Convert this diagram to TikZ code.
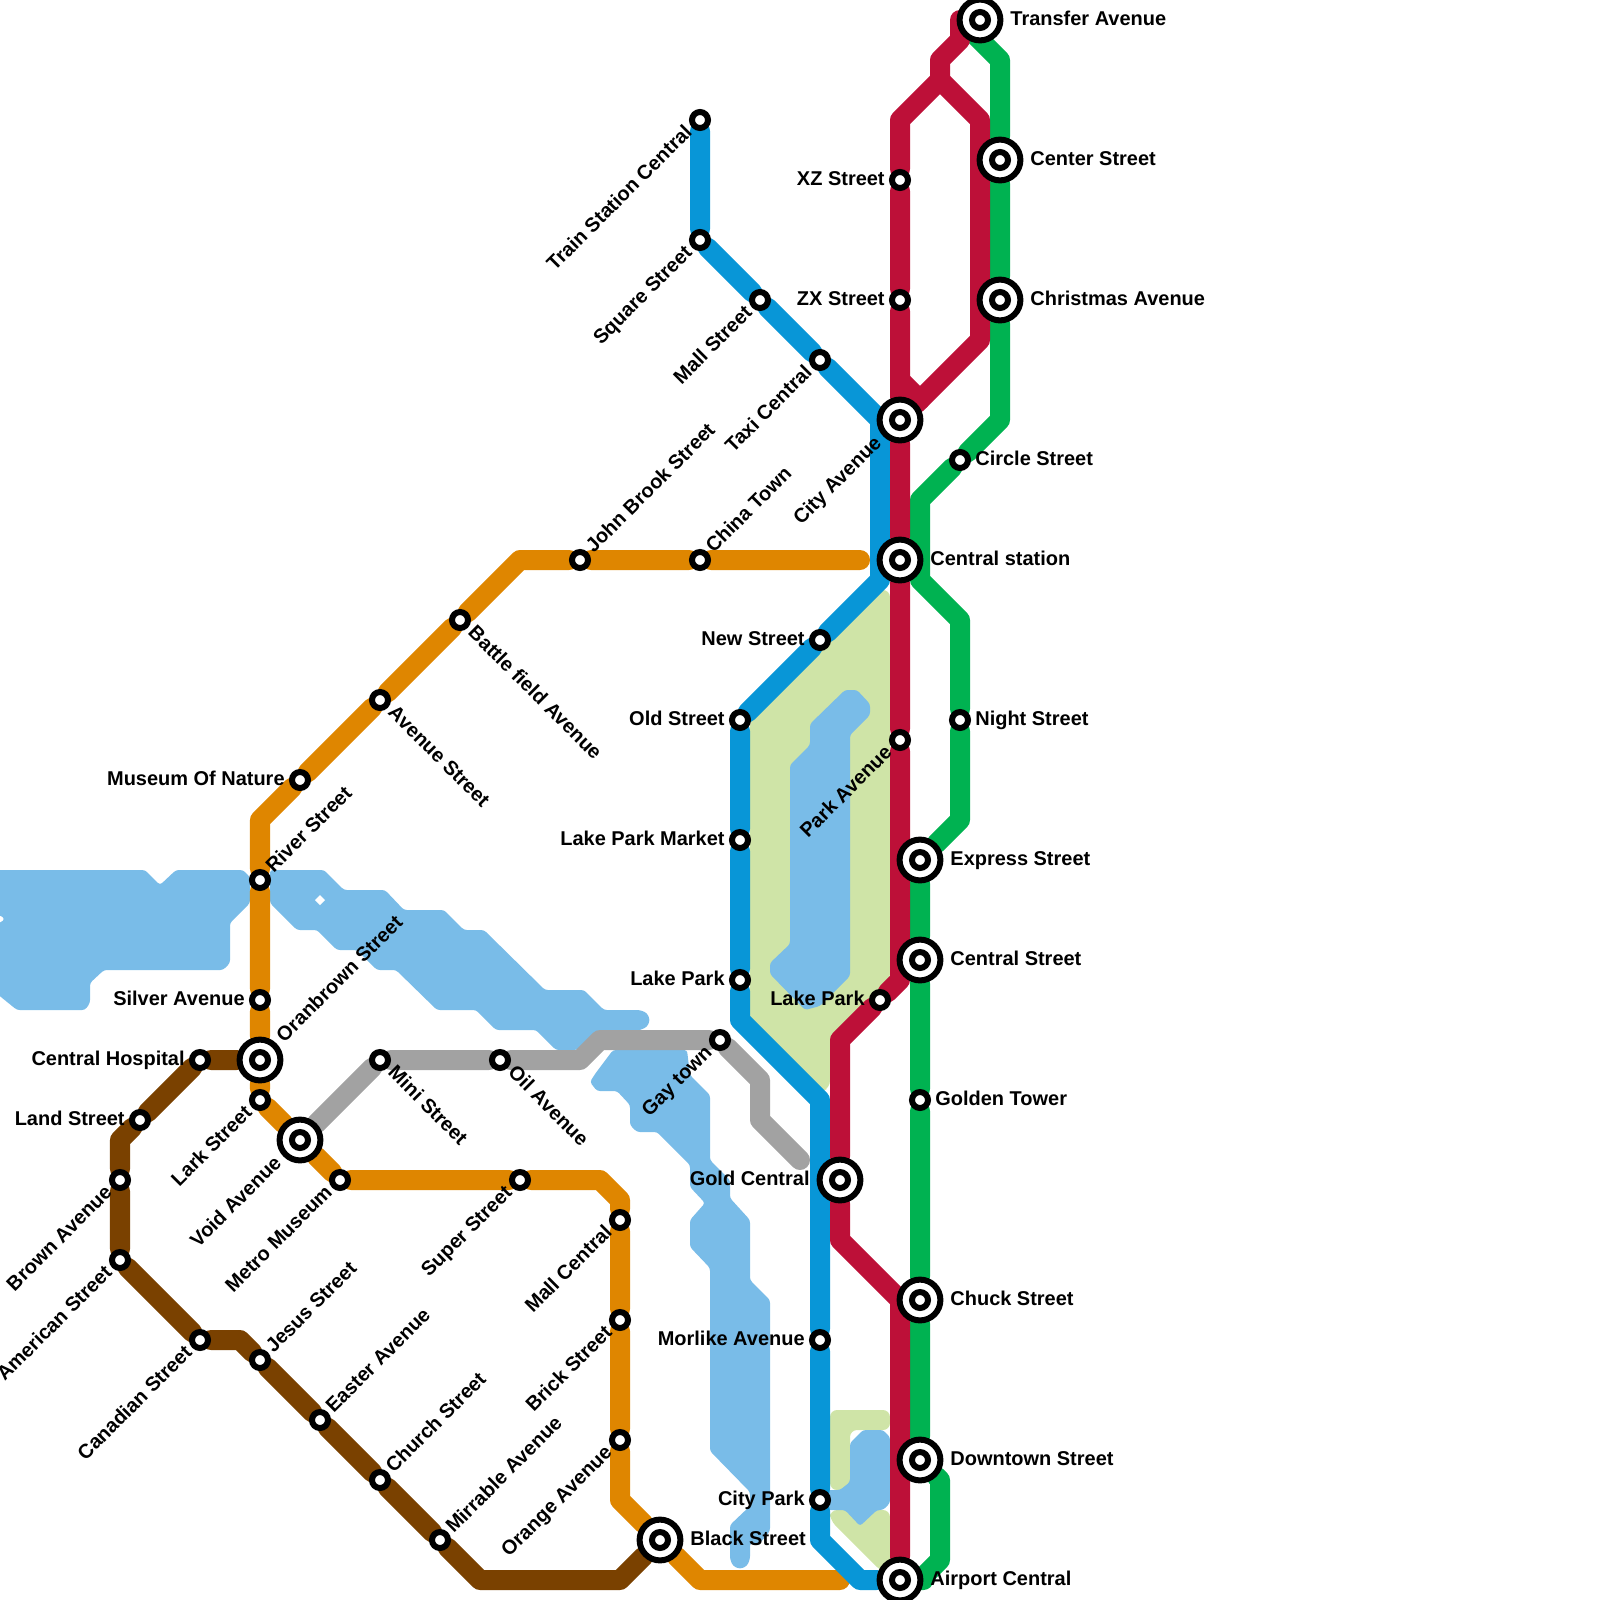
\documentclass[tikz,border=0pt]{standalone}
\usepackage{fontspec}
\setmainfont{Liberation Sans}
\usetikzlibrary{backgrounds}
\definecolor{mtblue}{HTML}{0896D7}
\definecolor{mtorange}{HTML}{DF8600}
\definecolor{mtbrown}{HTML}{7A4100}
\definecolor{mtgray}{HTML}{A2A2A2}
\definecolor{mtred}{HTML}{BD1038}
\definecolor{mtgreen}{HTML}{00B251}
\definecolor{mtlake}{HTML}{79BCE8}
\definecolor{mtpark}{HTML}{CFE4A7}
\tikzset{
  railline/.style={line width=0.5cm, line cap=round, line join=round},
  lake/.style={fill=mtlake, rounded corners=2pt},
  park/.style={fill=mtpark, rounded corners=5pt},
  every label/.style={font=\bfseries\fontsize{14.2}{14.2}\selectfont, inner sep=0pt, text height=10.2pt, text depth=3pt},
  stop/.style={circle, draw=black, fill=white, line width=0.15cm, minimum size=0.4cm, inner sep=0pt},
  hub/.style={stop, minimum size=1.02cm,
    path picture={\draw[black, line width=0.15cm, fill=white] (path picture bounding box.center) circle (8);}},
  far/.style={outer sep=2.1pt},
  upleft/.style={xshift=-1.8pt, yshift=1.4pt, rotate=45, anchor=east},
  upright/.style={xshift=1.6pt, yshift=-1.6pt, rotate=45, anchor=west},
  downright/.style={xshift=2pt, yshift=1.2pt, rotate=-45, anchor=west}
}
\begin{document}
\begin{tikzpicture}[x=0.025cm, y=-0.025cm, label distance=2.9pt]
  \useasboundingbox (0,0) rectangle (1600,1600);

  % Blue line stops
  \node[stop, label={[upleft]225:Train Station Central}] (trainstation) at (700,120) {};
  \node[stop, label={[upleft]225:Square Street}] (squarestreet) at (700,240) {};
  \node[stop, label={[upleft]225:Mall Street}] (mallstreet) at (760,300) {};
  \node[stop, label={[upleft]225:Taxi Central}] (taxicentral) at (820,360) {};
  \node[stop, label=left:New Street] (newstreet) at (820,640) {};
  \node[stop, label=left:Old Street] (oldstreet) at (740,720) {};
  \node[stop, label=left:Lake Park Market] (lakeparkmarket) at (740,840) {};
  \node[stop, label=left:Lake Park] (lakeparkwest) at (740,980) {};
  \node[stop, label=left:Morlike Avenue] (morlike) at (820,1340) {};
  \node[stop, label=left:City Park] (citypark) at (820,1500) {};

  % Red line stops
  \node[stop, label=left:XZ Street] (xzstreet) at (900,180) {};
  \node[stop, label=left:ZX Street] (zxstreet) at (900,300) {};
  \node[hub, label={[upleft,far]225:City Avenue}] (cityavenue) at (900,420) {};
  \node[stop, label={[upleft]225:Park Avenue}] (parkavenue) at (900,740) {};
  \node[stop, label=left:Lake Park] (lakeparkeast) at (880,1000) {};
  \node[hub, label={[far]left:Gold Central}] (goldcentral) at (840,1180) {};
  \node[hub, label={[far]right:Airport Central}] (airport) at (900,1580) {};
  \node[hub, label={[far]right:Central station}] (centralstation) at (900,560) {};

  % Green line stops
  \node[hub, label={[far]right:Transfer Avenue}] (transfer) at (980,20) {};
  \node[hub, label={[far]right:Center Street}] (centerstreet) at (1000,160) {};
  \node[hub, label={[far]right:Christmas Avenue}] (christmas) at (1000,300) {};
  \node[stop, label=right:Circle Street] (circlestreet) at (960,460) {};
  \node[stop, label=right:Night Street] (nightstreet) at (960,720) {};
  \node[hub, label={[far]right:Express Street}] (express) at (920,860) {};
  \node[hub, label={[far]right:Central Street}] (centralstreet) at (920,960) {};
  \node[stop, label=right:Golden Tower] (goldentower) at (920,1100) {};
  \node[hub, label={[far]right:Chuck Street}] (chuck) at (920,1300) {};
  \node[hub, label={[far]right:Downtown Street}] (downtown) at (920,1460) {};

  % Orange line stops
  \node[stop, label={[upright]45:China Town}] (chinatown) at (700,560) {};
  \node[stop, label={[upright]45:John Brook Street}] (johnbrook) at (580,560) {};
  \node[stop, label={[downright]-45:Battle field Avenue}] (battlefield) at (460,620) {};
  \node[stop, label={[downright]-45:Avenue Street}] (avenuestreet) at (380,700) {};
  \node[stop, label=left:Museum Of Nature] (museum) at (300,780) {};
  \node[stop, label={[upright]45:River Street}] (riverstreet) at (260,880) {};
  \node[stop, label=left:Silver Avenue] (silveravenue) at (260,1000) {};
  \node[hub, label={[upright,far]45:Oranbrown Street}] (oranbrown) at (260,1060) {};
  \node[stop, label={[upleft]225:Lark Street}] (larkstreet) at (260,1100) {};
  \node[hub, label={[upleft,far]225:Void Avenue}] (voidavenue) at (300,1140) {};
  \node[stop, label={[upleft]225:Metro Museum}] (metromuseum) at (340,1180) {};
  \node[stop, label={[upleft]225:Super Street}] (superstreet) at (520,1180) {};
  \node[stop, label={[upleft]225:Mall Central}] (mallcentral) at (620,1220) {};
  \node[stop, label={[upleft]225:Brick Street}] (brickstreet) at (620,1320) {};
  \node[stop, label={[upleft]225:Orange Avenue}] (orangeavenue) at (620,1440) {};
  \node[hub, label={[far]right:Black Street}] (blackstreet) at (660,1540) {};

  % Brown line stops
  \node[stop, label=left:Central Hospital] (hospital) at (200,1060) {};
  \node[stop, label=left:Land Street] (landstreet) at (140,1120) {};
  \node[stop, label={[upleft]225:Brown Avenue}] (brownavenue) at (120,1180) {};
  \node[stop, label={[upleft]225:American Street}] (american) at (120,1260) {};
  \node[stop, label={[upleft]225:Canadian Street}] (canadian) at (200,1340) {};
  \node[stop, label={[upright]45:Jesus Street}] (jesus) at (260,1360) {};
  \node[stop, label={[upright]45:Easter Avenue}] (easter) at (320,1420) {};
  \node[stop, label={[upright]45:Church Street}] (church) at (380,1480) {};
  \node[stop, label={[upright]45:Mirrable Avenue}] (mirrable) at (440,1540) {};

  % Gray line stops
  \node[stop, label={[downright]-45:Mini Street}] (ministreet) at (380,1060) {};
  \node[stop, label={[downright]-45:Oil Avenue}] (oilavenue) at (500,1060) {};
  \node[stop, label={[upleft]225:Gay town}] (gaytown) at (720,1040) {};

  % Free line ends
  \coordinate (orangestart) at (860,560);
  \coordinate (orangeend) at (840,1580);
  \coordinate (grayend) at (800,1160);
  \coordinate (redtop) at (960,20);
  \coordinate (redsplit) at (940,80);
  \coordinate (redfork) at (920,400);
  \coordinate (rednotch) at (900,380);

  \begin{scope}[on background layer]
    % Parks
    \path[park] (750,720) -- (877,590) -- (890,590) -- (890,980) -- (830,1040) -- (830,1088) -- (820,1092) -- (810,1088) -- (750,1025) -- cycle;
    \path[park] (830,1410) -- (890,1410) -- (890,1430) -- (850,1430) -- (850,1490) -- (830,1490) -- cycle;
    \path[park] (830,1510) -- (890,1510) -- (890,1572) -- (882,1572) -- (830,1520) -- cycle;

    % Lakes
    \path[lake] (-20,870) -- (145,870) -- (160,885) -- (176,870) -- (243,870) -- (250,877) -- (250,903) -- (230,923) -- (230,963) -- (223,970) -- (104,970) -- (90,983) -- (90,1003) -- (85,1010) -- (17,1010) -- (-20,980) -- (-20,923) -- (0,923) -- (5,919) -- (0,915) -- (-20,915) -- cycle;
    \path[lake] (270,870) -- (324,870) -- (344,890) -- (385,890) -- (404,910) -- (444,910) -- (464,930) -- (484,930) -- (545,990) -- (584,990) -- (604,1010) -- (640,1010) -- (647,1013) -- (650,1020) -- (647,1027) -- (640,1030) -- (600,1040) -- (576,1050) -- (556,1050) -- (536,1030) -- (496,1030) -- (476,1010) -- (437,1010) -- (396,970) -- (377,970) -- (357,950) -- (337,950) -- (317,930) -- (297,930) -- (270,903) -- cycle;
    \fill[white] (320,895) -- (325,900) -- (320,905) -- (315,900) -- cycle;
    \path[lake] (613,1050) -- (687,1050) -- (690,1075) -- (710,1095) -- (710,1160) -- (730,1180) -- (730,1198) -- (750,1220) -- (750,1280) -- (770,1300) -- (770,1531) -- (760,1543) -- (750,1543) -- (750,1559) -- (747,1566) -- (740,1569) -- (733,1566) -- (730,1559) -- (730,1525) -- (750,1506) -- (750,1492) -- (710,1451) -- (710,1268) -- (690,1247) -- (690,1220) -- (705,1203) -- (690,1187) -- (690,1165) -- (657,1132) -- (637,1132) -- (630,1125) -- (630,1105) -- (617,1091) -- (597,1091) -- (590,1082) -- (595,1074) -- cycle;
    \path[lake] (845,690) -- (857,690) -- (870,704) -- (870,715) -- (850,735) -- (850,976) -- (820,1006) -- (805,1010) -- (770,974) -- (770,963) -- (790,944) -- (790,765) -- (810,745) -- (810,724) -- cycle;
    \path[lake] (850,1443) -- (863,1430) -- (883,1430) -- (890,1437) -- (890,1503) -- (883,1510) -- (877,1510) -- (860,1526) -- (845,1510) -- (820,1510) -- (820,1490) -- (840,1490) -- (850,1482) -- cycle;

    % Brown line
    \draw[railline, mtbrown] (oranbrown) -- (hospital) -- (landstreet) -- (120,1140) -- (brownavenue) -- (american) -- (canadian) -- (240,1340) -- (jesus) -- (easter) -- (church) -- (mirrable) -- (480,1580) -- (620,1580) -- (blackstreet);

    % Orange line
    \draw[railline, mtorange] (orangestart) -- (chinatown) -- (johnbrook) -- (520,560) -- (battlefield) -- (avenuestreet) -- (museum) -- (260,820) -- (riverstreet) -- (silveravenue) -- (oranbrown) -- (larkstreet) -- (voidavenue) -- (metromuseum) -- (superstreet) -- (600,1180) -- (620,1200) -- (mallcentral) -- (brickstreet) -- (orangeavenue) -- (620,1500) -- (blackstreet) -- (700,1580) -- (orangeend);

    % Gray line
    \draw[railline, mtgray] (voidavenue) -- (ministreet) -- (oilavenue) -- (580,1060) -- (600,1040) -- (gaytown) -- (760,1080) -- (760,1120) -- (grayend);

    % Blue line
    \draw[railline, mtblue] (trainstation) -- (squarestreet) -- (mallstreet) -- (taxicentral) -- (880,420) -- (880,580) -- (newstreet) -- (oldstreet) -- (lakeparkmarket) -- (lakeparkwest) -- (740,1020) -- (820,1100) -- (morlike) -- (citypark) -- (820,1540) -- (860,1580) -- (airport);

    % Green line
    \draw[railline, mtgreen] (transfer.center) -- (970,30) -- (1000,60) -- (centerstreet) -- (christmas) -- (1000,420) -- (circlestreet) -- (920,500) -- (920,580) -- (960,620) -- (nightstreet) -- (960,820) -- (express) -- (centralstreet) -- (goldentower) -- (chuck) -- (downtown) -- (940,1480) -- (940,1560) -- (920,1580) -- (airport);

    % Red line
    \draw[railline, mtred] (redtop) -- (960,40) -- (940,60) -- (redsplit) -- (900,120) -- (xzstreet) -- (zxstreet) -- (cityavenue) -- (centralstation) -- (parkavenue) -- (900,980) -- (lakeparkeast) -- (840,1040) -- (goldcentral) -- (840,1240) -- (900,1300) -- (airport);
    \draw[railline, mtred] (redsplit) -- (980,120) -- (980,340) -- (cityavenue);
    \draw[railline, mtred] (redfork) -- (rednotch);
  \end{scope}
\end{tikzpicture}
\end{document}
